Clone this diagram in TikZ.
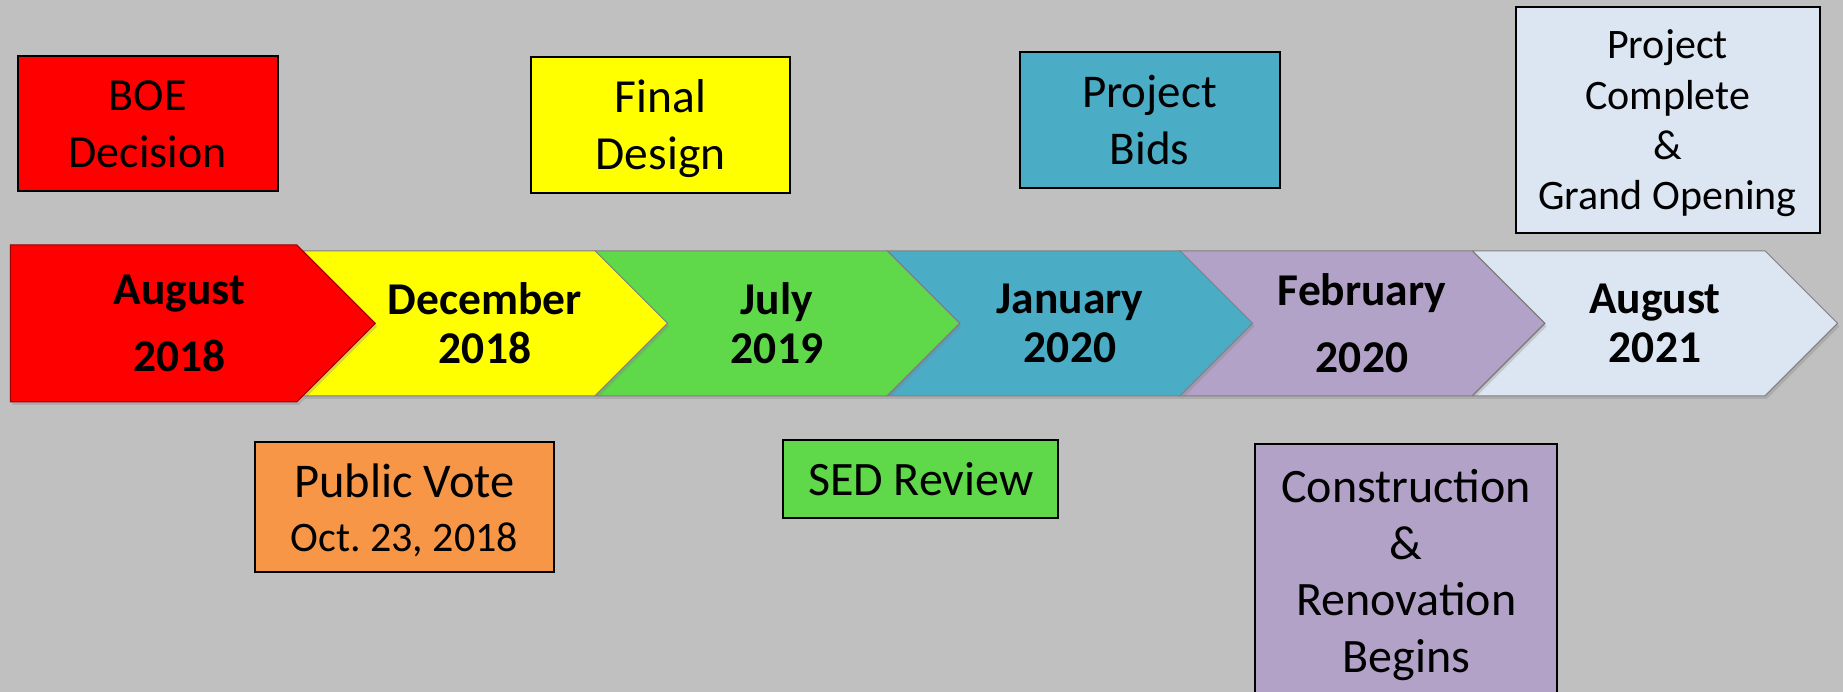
\documentclass[tikz,border=0pt]{standalone}
\usepackage{fontspec}
\setmainfont{Carlito}
\usetikzlibrary{shapes.symbols,shadows}

\definecolor{bggray}{HTML}{C0C0C0}
\definecolor{augred}{HTML}{FF0000}
\definecolor{decyellow}{HTML}{FFFF00}
\definecolor{julgreen}{HTML}{5FD84A}
\definecolor{janblue}{HTML}{4BACC6}
\definecolor{febpurple}{HTML}{B2A2C7}
\definecolor{auglight}{HTML}{DCE6F2}
\definecolor{voteorange}{HTML}{F79646}

\begin{document}
\begin{tikzpicture}[%
    x=1pt, y=1pt,
    monthtext/.style={align=center, inner sep=0pt,
      font=\bfseries\fontsize{45.5}{49}\selectfont},
    month/.style={monthtext, signal, signal from=west, signal to=east,
      minimum width=365pt, minimum height=145pt,
      draw=black!50, line width=1pt,
      drop shadow={shadow xshift=2pt, shadow yshift=-3pt, opacity=.3}},
    event/.style={draw=black, line width=2pt, align=center,
      inner sep=0pt, text depth=0pt, font=\fontsize{46}{56.5}\selectfont},
  ]
    \fill[bggray] (0,0) rectangle (1843,692);
    \useasboundingbox (0,0) rectangle (1843,692);

    % timeline
    \node[month,fill=auglight]  (aug21) at (1655,368.7) {August\\2021};
    \node[month,fill=febpurple] (feb20) at (1362,368.7) {February\\[18pt]2020};
    \node[month,fill=janblue]   (jan20) at (1070,368.7) {January\\2020};
    \node[month,fill=julgreen]  (jul19) at (777,368.7)  {July\\2019};
    \node[month,fill=decyellow] (dec18) at (485,368.7)  {December\\2018};
    \node[month,signal from=nowhere,minimum height=157pt,
      fill=augred,draw=augred!60!black] (aug18) at (153.5,368.6) {};
    \node[monthtext] (aug18txt) at (179.5,368.6) {August\\[18pt]2018};

    % events above
    \node[event,fill=augred,minimum width=260pt,minimum height=135pt]
      (boe) at (147.5,568) {BOE\\Decision};
    \node[event,fill=decyellow,minimum width=259pt,minimum height=136pt,
      font=\fontsize{47.5}{56.5}\selectfont]
      (design) at (660.5,567.4) {Final\\Design};
    \node[event,fill=janblue,minimum width=260pt,minimum height=136pt,
      font=\fontsize{47}{57}\selectfont]
      (bids) at (1149.5,571.8) {Project\\Bids};
    \node[event,fill=auglight,minimum width=304pt,minimum height=226pt,
      font=\fontsize{42}{50.3}\selectfont]
      (complete) at (1667.5,572) {Project\\Complete\\\&\\Grand Opening};

    % events below
    \node[event,fill=voteorange,minimum width=299pt,minimum height=130pt,
      font=\fontsize{48.5}{56.5}\selectfont]
      (vote) at (404.4,184.5)
      {Public Vote\\[-3pt]{\fontsize{42}{50}\selectfont Oct.\ 23, 2018}};
    \node[event,fill=julgreen,minimum width=275pt,minimum height=78pt,
      font=\fontsize{48}{56.5}\selectfont]
      (sed) at (920.7,213.2) {SED Review};
    \node[event,fill=febpurple,minimum width=302pt,anchor=north,
      inner ysep=25pt,font=\fontsize{48}{56.6}\selectfont]
      (build) at (1406.2,248.5) {Construction\\\&\\Renovation\\Begins};
\end{tikzpicture}
\end{document}
